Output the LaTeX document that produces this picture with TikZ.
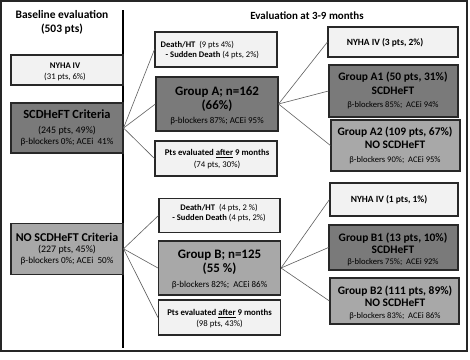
\documentclass[tikz,border=0pt]{standalone}
\usepackage{fontspec}
\setmainfont{Carlito}
\definecolor{darkfill}{RGB}{122,122,122}
\definecolor{midfill}{RGB}{168,168,168}
\definecolor{lightfill}{RGB}{242,242,242}
\definecolor{edge}{RGB}{40,40,40}
\definecolor{connc}{RGB}{95,95,95}
\newcommand\fsz[2]{\fontsize{#1}{#2}\selectfont}
\begin{document}
\begin{tikzpicture}[x=1bp,y=-1bp,
  box/.style={draw=edge, line width=1.1bp, rectangle, inner sep=0pt},
  txt/.style={inner sep=0pt, align=center, text=black},
  conn/.style={draw=connc, line width=0.6bp},
  frame/.style={draw=black!85, line width=1.4bp}]
\useasboundingbox (0,0) rectangle (470,359);
\fill[white] (0,0) rectangle (470,359);
\draw[frame] (1,1) rectangle (467,351);
\coordinate (divtop) at (123,10);
\coordinate (divbot) at (123,348);
\draw[black, line width=1.1bp] (divtop) -- (divbot);

% headings
\node[txt, font=\fsz{11.5}{14}\bfseries] (h1) at (62,22) {Baseline evaluation\\(503 pts)};
\node[txt, font=\fsz{11}{13}\bfseries] (h2) at (307,16) {Evaluation at 3-9 months};

% left column
\node[box, fill=lightfill, minimum width=112bp, minimum height=30bp] (nyhaL) at (67,70) {};
\node[txt, font=\fsz{8.7}{11}] (nyhaLt) at (65,72) {\textbf{NYHA IV}\\(31 pts, 6\%)};

\node[box, fill=darkfill, minimum width=112bp, minimum height=50bp] (scdL) at (67,128) {};
\node[txt, font=\fsz{9.2}{11.6}] (scdLt) at (67,128) {{\fsz{12.5}{15}\bfseries SCDHeFT Criteria}\\[3.5pt]{\fsz{10}{12}(245 pts, 49\%)}\\β-blockers 0\%; ACEi\ \ 41\%};

\node[box, fill=midfill, minimum width=112bp, minimum height=51bp] (noscdL) at (67,248.8) {};
\node[txt, font=\fsz{9.2}{11.2}] (noscdLt) at (67,249) {{\fsz{12}{14}\bfseries NO SCDHeFT Criteria}\\{\fsz{10}{12}(227 pts, 45\%)}\\β-blockers 0\%; ACEi\ \ 50\%};

% middle column A
\node[box, fill=lightfill, minimum width=122bp, minimum height=35bp] (deathA) at (216,49.5) {};
\node[txt, align=left, anchor=west, font=\fsz{8.6}{10.5}] (deathAt) at (160.5,50) {\textbf{Death/HT}\ \ (9 pts 4\%)\\\hspace{5pt}\textbf{- Sudden Death} (4 pts, 2\%)};

\node[box, fill=darkfill, minimum width=122bp, minimum height=54bp] (grpA) at (217,104) {};
\node[txt, font=\fsz{9}{14}] (grpAt) at (217,105.5) {{\fsz{13}{14}\bfseries Group A; n=162}\\{\fsz{13}{14}\bfseries (66\%)}\\β-blockers 87\%; ACEi 95\%};

\node[box, fill=lightfill, minimum width=122bp, minimum height=35bp] (ptsA) at (216,158.5) {};
\node[txt, font=\fsz{8.8}{11.5}] (ptsAt) at (217,159) {\textbf{Pts evaluated \underline{after} 9 months}\\(74 pts, 30\%)};

% middle column B
\node[box, fill=lightfill, minimum width=121bp, minimum height=34bp] (deathB) at (219.5,215.5) {};
\node[txt, font=\fsz{8.6}{10.2}] (deathBt) at (219,213) {\textbf{Death/HT}\ \ (4 pts, 2 \%)\\\textbf{- Sudden Death} (4 pts, 2\%)};

\node[box, fill=midfill, minimum width=122bp, minimum height=54bp] (grpB) at (219.5,268) {};
\node[txt, font=\fsz{9}{14.5}] (grpBt) at (219.5,269.5) {{\fsz{13}{14}\bfseries Group B; n=125}\\{\fsz{13}{14}\bfseries (55 \%)}\\β-blockers 82\%;\ \ ACEi 86\%};

\node[box, fill=lightfill, minimum width=122bp, minimum height=35bp] (ptsB) at (219.5,317.5) {};
\node[txt, font=\fsz{8.8}{10.5}] (ptsBt) at (219.5,318.5) {\textbf{Pts evaluated \underline{after} 9 months}\\(98 pts, 43\%)};

% right column A
\node[box, fill=lightfill, minimum width=130bp, minimum height=30bp] (nyhaA) at (393,42) {};
\node[txt, font=\fsz{9.5}{11}\bfseries] (nyhaAt) at (385,43) {NYHA IV (3 pts, 2\%)};

\node[box, fill=darkfill, minimum width=129bp, minimum height=52bp] (a1) at (393.5,91) {};
\node[txt, font=\fsz{8.6}{13.8}] (a1t) at (393,90.5) {{\fsz{11.5}{13}\bfseries Group A1 (50 pts, 31\%)}\\{\fsz{11.5}{13}\bfseries SCDHeFT}\\β-blockers 85\%;\ \ ACEi 94\%};

\node[box, fill=midfill, minimum width=129bp, minimum height=51bp] (a2) at (395.5,145.5) {};
\node[txt, font=\fsz{8.6}{13.5}] (a2t) at (395,145.3) {{\fsz{11.5}{13}\bfseries Group A2 (109 pts, 67\%)}\\{\fsz{11.5}{13}\bfseries NO SCDHeFT}\\β-blockers 90\%;\ \ ACEi 95\%};

% right column B
\node[box, fill=lightfill, minimum width=128bp, minimum height=33bp] (nyhaB) at (394,199.5) {};
\node[txt, font=\fsz{9.5}{11}\bfseries] (nyhaBt) at (389,200) {NYHA IV (1 pts, 1\%)};

\node[box, fill=darkfill, minimum width=129bp, minimum height=45bp] (b1) at (393.5,247.5) {};
\node[txt, font=\fsz{8.6}{11.8}] (b1t) at (393,249.5) {{\fsz{11.5}{13}\bfseries Group B1 (13 pts, 10\%)}\\{\fsz{11.5}{13}\bfseries SCDHeFT}\\β-blockers 75\%;\ \ ACEi 92\%};

\node[box, fill=midfill, minimum width=129bp, minimum height=46bp] (b2) at (394.5,301) {};
\node[txt, font=\fsz{8.6}{12.3}] (b2t) at (395,303) {{\fsz{11.5}{13}\bfseries Group B2 (111 pts, 89\%)}\\{\fsz{11.5}{13}\bfseries NO SCDHeFT}\\β-blockers 83\%;\ \ ACEi 86\%};

% connectors
\draw[conn] (scdL.east) -- (deathA.west);
\draw[conn] (scdL.east) -- (grpA.west);
\draw[conn] (scdL.east) -- (ptsA.west);
\draw[conn] (noscdL.east) -- (deathB.west);
\draw[conn] (noscdL.east) -- (grpB.west);
\draw[conn] (noscdL.east) -- (ptsB.west);
\draw[conn] (grpA.east) -- (nyhaA.west);
\draw[conn] (grpA.east) -- (a1.west);
\draw[conn] (grpA.east) -- (a2.west);
\draw[conn] (grpB.east) -- (nyhaB.west);
\draw[conn] (grpB.east) -- (b1.west);
\draw[conn] (grpB.east) -- (b2.west);
\end{tikzpicture}
\end{document}
